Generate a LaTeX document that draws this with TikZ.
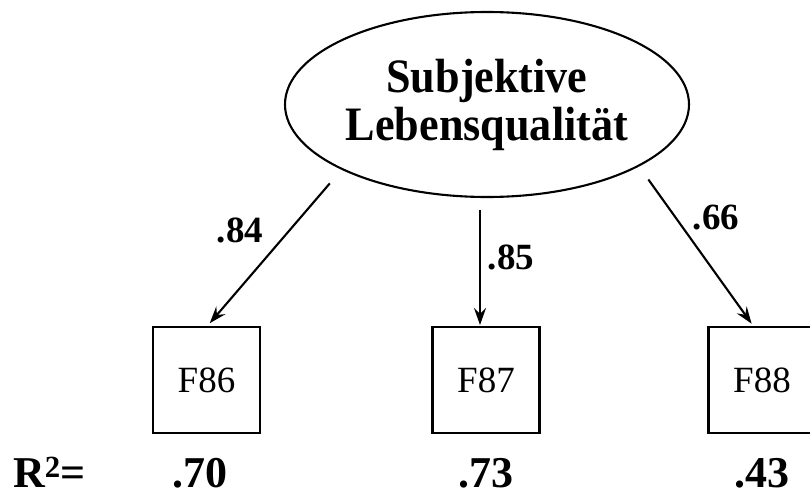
\documentclass[tikz,border=0pt]{standalone}
\usepackage{fontspec}
\setmainfont{Liberation Serif}
\newfontfamily\condfont[FakeStretch=0.92]{Liberation Serif}
\usetikzlibrary{shapes.geometric,arrows.meta}

\begin{document}
\begin{tikzpicture}[
	x=1pt,y=-1pt,
	latent/.style={ellipse,draw,line width=2.1pt,inner sep=0pt,outer sep=0pt,minimum width=404pt,minimum height=185pt,align=center,font=\condfont\bfseries\fontsize{48}{48}\selectfont},
	observed/.style={rectangle,draw,line width=2.3pt,inner sep=0pt,outer sep=0pt,minimum width=107pt,minimum height=106pt,font=\fontsize{37}{37}\selectfont},
	loading/.style={-{Stealth[length=17pt,width=12pt,inset=6pt]},line width=2.1pt},
	coef/.style={font=\bfseries\fontsize{37}{37}\selectfont,inner sep=0pt},
	rsq/.style={font=\bfseries\fontsize{44}{44}\selectfont,inner sep=0pt,anchor=base}
]

	\useasboundingbox (0,0) rectangle (810,495);

	\node[latent] at (487,104.5) (L) {Subjektive\\Lebensqualität};

	\node[observed] at (206.5,380) (f86) {F86};
	\node[observed] at (486,380) (f87) {F87};
	\node[observed] at (762,380) (f88) {F88};

	\draw[loading,shorten <=19pt,shorten >=5pt] (L.204) -- (f86.north);
	\draw[loading,shorten <=13pt,shorten >=2pt] ([xshift=-7pt]L.south) -- ([xshift=-6pt]f87.north);
	\draw[loading,shorten <=17pt,shorten >=4pt] (L.338) -- ([xshift=-8pt]f88.north);

	\node[coef] at (240,230.5) (c86) {.84};
	\node[coef] at (511,257.5) (c87) {.85};
	\node[coef] at (716,217.5) (c88) {.66};

	\node[rsq,anchor=base west] at (13,487) (r) {R\textsuperscript{2}=};
	\node[rsq] at (200,487) (r86) {.70};
	\node[rsq] at (486,487) (r87) {.73};
	\node[rsq] at (762,487) (r88) {.43};

\end{tikzpicture}
\end{document}
